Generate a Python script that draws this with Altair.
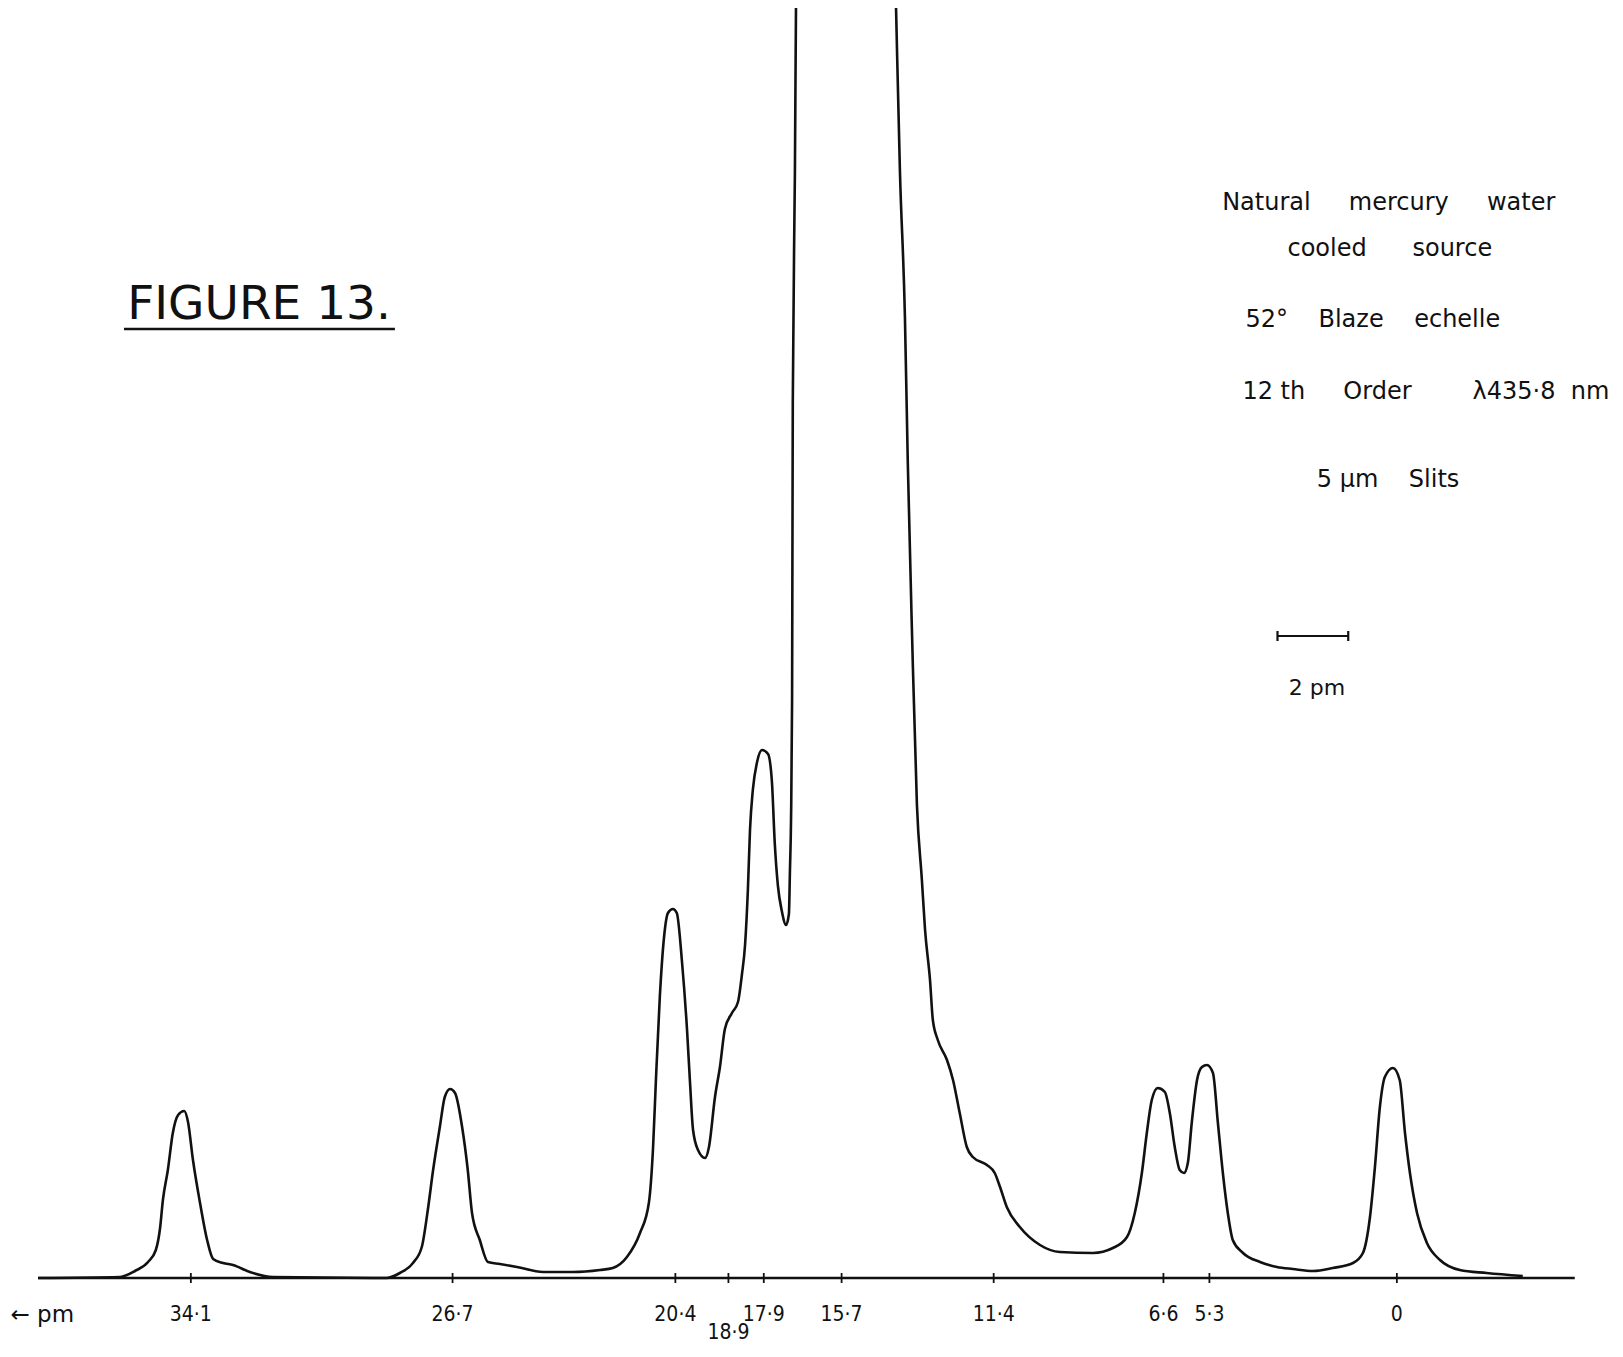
import altair as alt
import pandas as pd

# ---------------- data ----------------
# recorder trace: wavelength shift (pm, decreasing to the right) and relative intensity
trace_pm = [
    38.42, 36.10, 35.68, 35.31, 35.09, 34.97, 34.89, 34.75, 34.61, 34.46,
    34.29, 34.18, 34.04, 33.84, 33.64, 33.47, 33.19, 32.91, 32.43, 31.78,
    28.56, 28.19, 27.82, 27.57, 27.40, 27.25, 27.06, 26.92, 26.77, 26.63,
    26.43, 26.27, 26.15, 25.93, 25.70, 25.36, 24.88, 24.14, 23.30, 22.53,
    22.17, 21.77, 21.40, 21.15, 21.03, 20.95, 20.84, 20.72, 20.61, 20.47,
    20.36, 20.21, 20.07, 19.99, 19.90, 19.76, 19.56, 19.45, 19.28, 19.14,
    19.00, 18.80, 18.63, 18.52, 18.43, 18.35, 18.29, 18.21, 18.09, 17.95,
    17.78, 17.67, 17.59, 17.50, 17.39, 17.27, 17.19, 17.16, 17.13, 17.10,
    17.08, 17.02, 16.99,
    15.58,
    14.16, 14.05, 13.91, 13.83, 13.71, 13.57, 13.43, 13.34, 13.20, 13.12,
    12.98, 12.72, 12.55, 12.36, 12.16, 11.99, 11.59, 11.37, 11.22, 11.03,
    10.66, 10.09, 9.53, 8.59, 8.03, 7.63, 7.41, 7.21, 7.07, 6.93,
    6.76, 6.56, 6.42, 6.28, 6.14, 6.02, 5.91, 5.80, 5.65, 5.51,
    5.37, 5.20, 5.06, 4.92, 4.78, 4.64, 4.35, 3.87, 3.39, 2.94,
    2.37, 1.81, 1.24, 0.96, 0.76, 0.62, 0.48, 0.34, 0.11, -0.08,
    -0.23, -0.37, -0.57, -0.85, -1.22, -1.78, -2.54, -3.56,
]
trace_intensity = [
    0.0, 0.1, 0.7, 1.6, 2.8, 5.0, 7.8, 10.8, 14.5, 16.3,
    16.7, 15.6, 11.8, 7.5, 3.8, 1.9, 1.5, 1.3, 0.6, 0.1,
    0.0, 0.5, 1.5, 3.1, 6.8, 10.8, 15.1, 18.1, 18.9, 18.5,
    15.1, 10.8, 6.5, 3.8, 1.6, 1.4, 1.1, 0.6, 0.6, 0.8,
    1.0, 2.1, 4.5, 7.5, 13.1, 19.8, 28.1, 34.1, 36.5, 36.9,
    36.5, 31.5, 24.8, 19.8, 14.8, 12.8, 12.0, 13.1, 18.1, 21.1,
    24.9, 26.5, 27.6, 30.3, 33.3, 38.8, 44.8, 48.8, 51.6, 52.8,
    52.4, 49.6, 43.5, 39.2, 36.7, 35.3, 36.4, 40.8, 45.8, 57.8,
    87.6, 110.6, 126.9,
    400.0,
    126.9, 110.6, 96.2, 81.8, 64.6, 47.3, 39.8, 34.8, 29.8, 25.8,
    23.8, 21.8, 19.8, 16.5, 13.1, 12.1, 11.3, 10.5, 9.1, 7.1,
    5.1, 3.3, 2.6, 2.5, 3.0, 4.1, 6.5, 10.5, 14.5, 17.8,
    19.0, 18.6, 16.5, 13.1, 10.8, 10.5, 11.5, 15.5, 19.8, 21.1,
    21.3, 20.5, 15.5, 10.5, 6.5, 3.8, 2.5, 1.6, 1.1, 0.9,
    0.7, 1.0, 1.5, 2.5, 6.1, 11.1, 17.1, 20.1, 21.0, 19.8,
    14.5, 10.5, 6.5, 3.5, 1.8, 0.8, 0.5, 0.2,
]
assert len(trace_pm) == len(trace_intensity)

# axis ticks and their labels (pm)
tick_values = [34.1, 26.7, 20.4, 18.9, 17.9, 15.7, 11.4, 6.6, 5.3, 0.0]
tick_labels = ["34·1", "26·7", "20·4", "18·9", "17·9", "15·7", "11·4", "6·6", "5·3", "0"]
tick_label_row = [0, 0, 0, 1, 0, 0, 0, 0, 0, 0]

# annotation texts (gaps kept with non-breaking spaces, as SVG collapses plain ones)
NB = "\u00a0"
title_text = "FIGURE 13."
info_lines = [
    "Natural" + NB * 5 + "mercury" + NB * 5 + "water",
    "cooled" + NB * 6 + "source",
    "52°" + NB * 4 + "Blaze" + NB * 4 + "echelle",
    "12" + NB + "th" + NB * 5 + "Order" + NB * 8 + "λ435·8" + NB * 2 + "nm",
    "5" + NB + "μm" + NB * 4 + "Slits",
]
scale_bar_length_pm = 2.0
scale_bar_text = "2 pm"
axis_unit_text = "← pm"

# ---------------- layout (scale domains and annotation anchors) ----------------
X_LEFT, X_RIGHT = 39.27, -5.97          # pm at left / right edge of the plot
Y_BOTTOM, Y_TOP = -7.0, 127.0           # intensity at bottom / top edge
W, H = 1600, 1340
AXIS_FROM, AXIS_TO = 38.42, -5.03
TICK_HALF = 0.5
LABEL_Y = [-3.7, -5.5]
INFO_X = [0.23, 0.20, 0.68, -0.82, 0.25]
INFO_Y = [107.5, 102.9, 95.8, 88.6, 79.8]
TITLE_X, TITLE_Y = 35.9, 95.9
UNDERLINE = (35.99, 28.33, 94.9)
BAR_CENTER, BAR_Y = 2.375, 64.2
BAR_TEXT_X, BAR_TEXT_Y = 2.26, 59.0
UNIT_X, UNIT_Y = 39.2, -3.7

INK = "#111111"
LABEL_FONT = "DejaVu Sans Condensed, Liberation Sans Narrow, DejaVu Sans"
TEXT_FONT = "DejaVu Sans"

xs = alt.Scale(domain=[X_RIGHT, X_LEFT], reverse=True, nice=False, zero=False)
ys = alt.Scale(domain=[Y_BOTTOM, Y_TOP], nice=False, zero=False)


def X(field):
    return alt.X(field, type="quantitative", scale=xs, axis=None)


def Y(field):
    return alt.Y(field, type="quantitative", scale=ys, axis=None)


trace_df = pd.DataFrame({
    "pm": trace_pm,
    "intensity": trace_intensity,
    "order": list(range(len(trace_pm))),
})

trace = alt.Chart(trace_df).mark_line(
    color=INK, strokeWidth=2.6, interpolate="monotone", clip=True
).encode(x=X("pm"), y=Y("intensity"), order=alt.Order("order:Q"))

axis_df = pd.DataFrame({"a": [AXIS_FROM], "b": [AXIS_TO], "y": [0.0]})
axis_line = alt.Chart(axis_df).mark_rule(color=INK, strokeWidth=2.4).encode(
    x=X("a"), x2="b", y=Y("y")
)

ticks_df = pd.DataFrame({
    "pm": tick_values,
    "label": tick_labels,
    "row": tick_label_row,
})
ticks_df["lo"] = -TICK_HALF
ticks_df["hi"] = TICK_HALF
ticks_df["ly"] = [LABEL_Y[r] for r in tick_label_row]

tick_marks = alt.Chart(ticks_df).mark_rule(color=INK, strokeWidth=1.8).encode(
    x=X("pm"), y=Y("lo"), y2="hi"
)
tick_text = alt.Chart(ticks_df).mark_text(
    font=LABEL_FONT, fontSize=21, color=INK, align="center", baseline="middle"
).encode(x=X("pm"), y=Y("ly"), text="label:N")

unit_df = pd.DataFrame({"x": [UNIT_X], "y": [UNIT_Y], "t": [axis_unit_text]})
unit_text = alt.Chart(unit_df).mark_text(
    font=TEXT_FONT, fontSize=23, color=INK, align="left", baseline="middle"
).encode(x=X("x"), y=Y("y"), text="t:N")

info_df = pd.DataFrame({"x": INFO_X, "y": INFO_Y, "t": info_lines})
info_text = alt.Chart(info_df).mark_text(
    font=TEXT_FONT, fontSize=24, color=INK, align="center", baseline="middle"
).encode(x=X("x"), y=Y("y"), text="t:N")

title_df = pd.DataFrame({"x": [TITLE_X], "y": [TITLE_Y], "t": [title_text]})
title = alt.Chart(title_df).mark_text(
    font=TEXT_FONT, fontSize=47, color=INK, align="left", baseline="alphabetic"
).encode(x=X("x"), y=Y("y"), text="t:N")

ul_df = pd.DataFrame({"a": [UNDERLINE[0]], "b": [UNDERLINE[1]], "y": [UNDERLINE[2]]})
underline = alt.Chart(ul_df).mark_rule(color=INK, strokeWidth=2.6).encode(
    x=X("a"), x2="b", y=Y("y")
)

bar_df = pd.DataFrame({
    "a": [BAR_CENTER + scale_bar_length_pm / 2],
    "b": [BAR_CENTER - scale_bar_length_pm / 2],
    "y": [BAR_Y],
})
bar = alt.Chart(bar_df).mark_rule(color=INK, strokeWidth=2.2).encode(
    x=X("a"), x2="b", y=Y("y")
)
bar_ends_df = pd.DataFrame({
    "x": [BAR_CENTER + scale_bar_length_pm / 2, BAR_CENTER - scale_bar_length_pm / 2],
    "lo": [BAR_Y - 0.5, BAR_Y - 0.5],
    "hi": [BAR_Y + 0.5, BAR_Y + 0.5],
})
bar_ends = alt.Chart(bar_ends_df).mark_rule(color=INK, strokeWidth=2.2).encode(
    x=X("x"), y=Y("lo"), y2="hi"
)
bar_label_df = pd.DataFrame({"x": [BAR_TEXT_X], "y": [BAR_TEXT_Y], "t": [scale_bar_text]})
bar_label = alt.Chart(bar_label_df).mark_text(
    font=TEXT_FONT, fontSize=22, color=INK, align="center", baseline="middle"
).encode(x=X("x"), y=Y("y"), text="t:N")

chart = alt.layer(
    axis_line, tick_marks, trace, tick_text, unit_text,
    info_text, title, underline, bar, bar_ends, bar_label,
).properties(
    width=W, height=H, padding=0,
    autosize=alt.AutoSizeParams(type="none"),
    background="white",
).configure_view(stroke=None)

chart.save("out.html", embed_options={"renderer": "svg", "actions": False})
